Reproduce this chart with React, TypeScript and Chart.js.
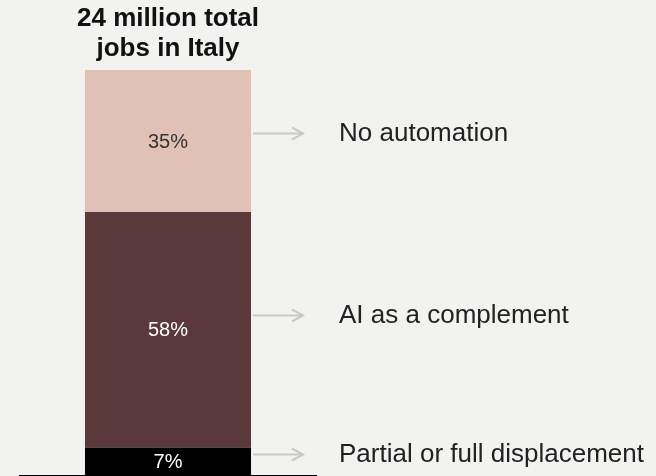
import React, { useEffect, useRef } from "react";
import { Chart, registerables } from "chart.js";

Chart.register(...registerables);

const categories = ["24 million total jobs in Italy"];
const titleLines = ["24 million total", "jobs in Italy"];
const segmentLabels = ["Partial or full displacement", "AI as a complement", "No automation"];
const segmentValues = [7, 58, 35];
const segmentColors = ["#000000", "#5b393b", "#e1c1b5"];
const valueTextColors = ["#ffffff", "#ffffff", "#333333"];
// y position (in axis units) of each side arrow/label
const arrowAnchors = [5.4, 39.6, 84.5];

const FONT = "'Liberation Sans', Arial, Helvetica, sans-serif";

const annotate = {
  id: "annotate",
  afterDatasetsDraw(chart: any) {
    const { ctx, chartArea, scales } = chart;
    const y = scales.y;
    ctx.save();
    // title
    ctx.fillStyle = "#111111";
    ctx.font = `bold 26px ${FONT}`;
    ctx.textAlign = "center";
    ctx.textBaseline = "middle";
    const cx = (chartArea.left + chartArea.right) / 2;
    titleLines.forEach((t, i) => ctx.fillText(t, cx, 19 + i * 30));

    let barRight = 0;
    chart.data.datasets.forEach((ds: any, i: number) => {
      const meta = chart.getDatasetMeta(i);
      const el = meta.data[0];
      const p = el.getProps(["x", "y", "base", "width"], true);
      barRight = p.x + p.width / 2;
      ctx.fillStyle = valueTextColors[i];
      ctx.font = `20px ${FONT}`;
      ctx.textAlign = "center";
      ctx.textBaseline = "middle";
      ctx.fillText(`${ds.data[0]}%`, p.x, (p.y + p.base) / 2 + 1);
    });

    segmentLabels.forEach((lab, i) => {
      const ay = Math.round(y.getPixelForValue(arrowAnchors[i])) + 0.5;
      const x0 = barRight + 2;
      const x1 = barRight + 52;
      ctx.strokeStyle = "#c9c9c9";
      ctx.lineWidth = 2;
      ctx.beginPath();
      ctx.moveTo(x0, ay);
      ctx.lineTo(x1, ay);
      ctx.stroke();
      ctx.beginPath();
      ctx.moveTo(x1 - 11, ay - 6);
      ctx.lineTo(x1, ay);
      ctx.lineTo(x1 - 11, ay + 6);
      ctx.stroke();
      ctx.fillStyle = "#222222";
      ctx.font = `26px ${FONT}`;
      ctx.textAlign = "left";
      ctx.textBaseline = "middle";
      ctx.fillText(lab, x1 + 36, ay);
    });
    ctx.restore();
  },
};

export default function App() {
  const ref = useRef<HTMLCanvasElement>(null);
  useEffect(() => {
    document.body.style.margin = "0";
    document.body.style.background = "#f2f2f0";
    const chart = new Chart(ref.current!, {
      type: "bar",
      data: {
        labels: categories,
        datasets: segmentLabels.map((l, i) => ({
          label: l,
          data: [segmentValues[i]],
          backgroundColor: segmentColors[i],
          borderWidth: 0,
          barPercentage: 0.561,
          categoryPercentage: 1,
        })),
      },
      options: {
        animation: false,
        responsive: false,
        maintainAspectRatio: false,
        layout: { padding: { top: 70, left: 20, right: 340, bottom: 0 } },
        plugins: {
          legend: { display: false },
          tooltip: { enabled: false },
          title: { display: false },
        },
        scales: {
          x: {
            stacked: true,
            ticks: { display: false },
            grid: { display: false, drawTicks: false },
            border: { display: true, color: "#000000", width: 2 },
          },
          y: {
            stacked: true,
            display: false,
            min: 0,
            max: 100,
          },
        },
      },
      plugins: [annotate],
    });
    return () => chart.destroy();
  }, []);
  return (
    <div style={{ position: "fixed", left: 0, top: 0, width: 656, height: 476, background: "#f2f2f0" }}>
      <canvas ref={ref} width={656} height={476} style={{ display: "block" }} />
    </div>
  );
}
